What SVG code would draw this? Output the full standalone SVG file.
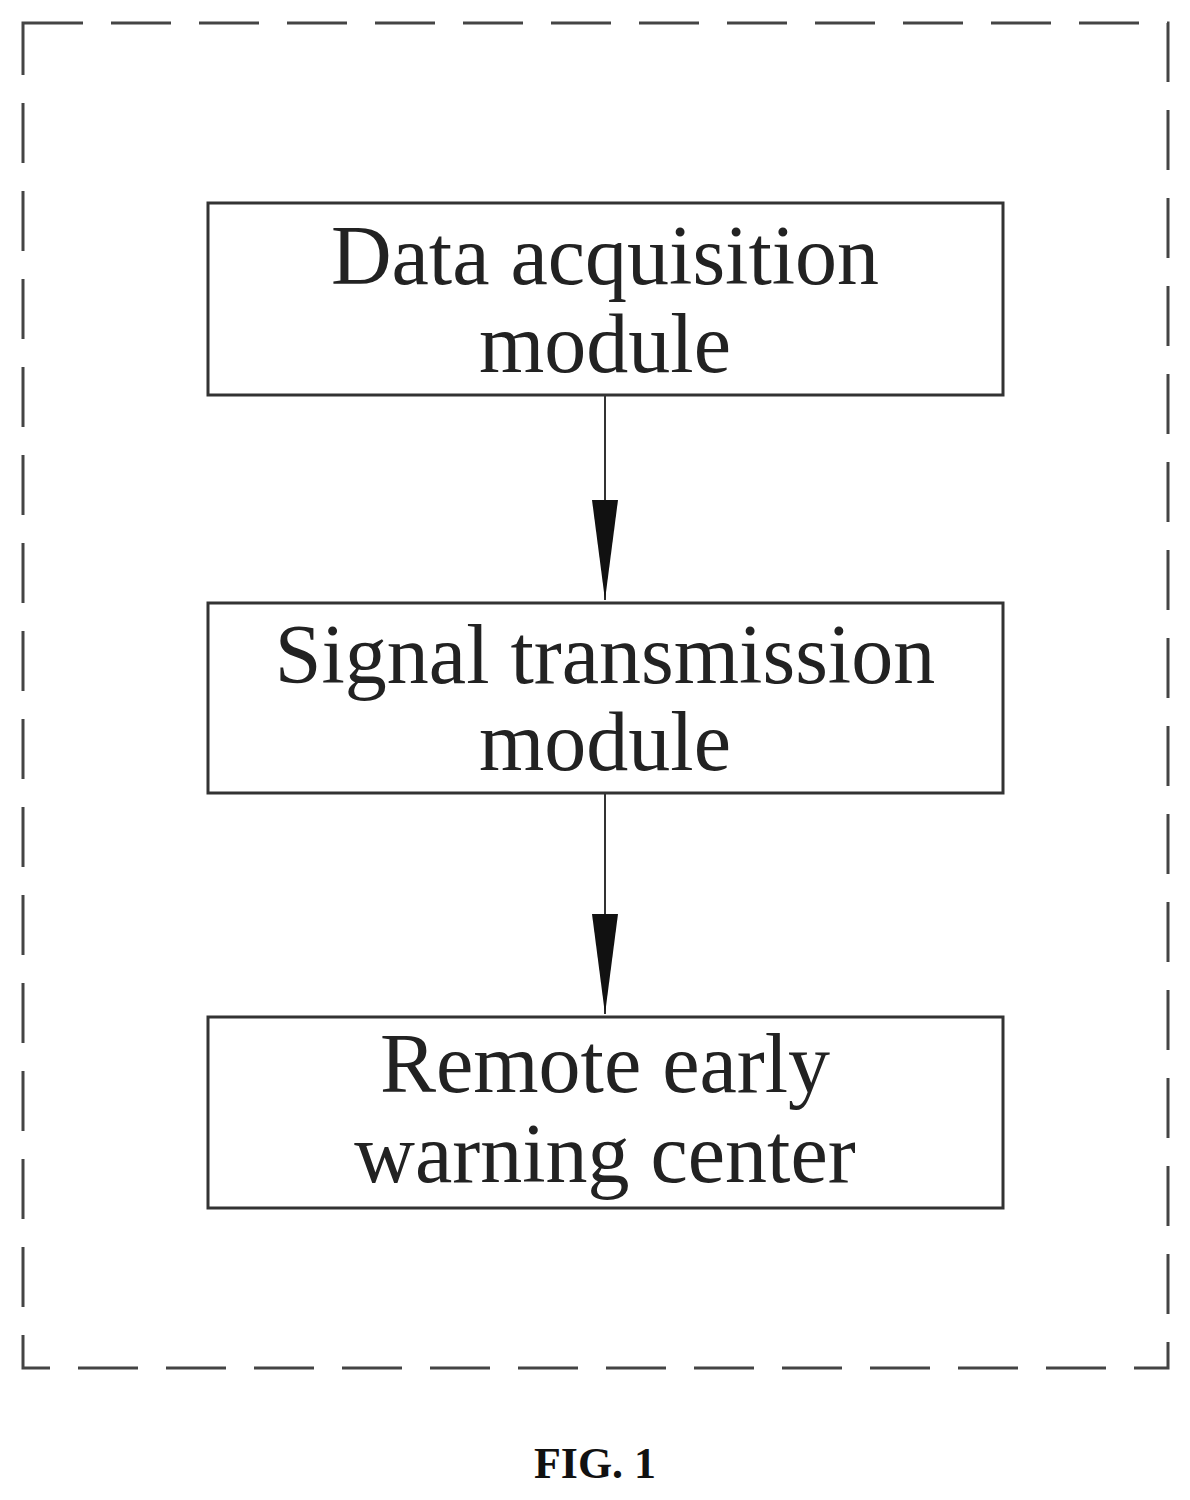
<svg xmlns="http://www.w3.org/2000/svg" width="1190" height="1500" viewBox="0 0 1190 1500">
<style>
.box{fill:none;stroke:#333;stroke-width:3}
.t{font-family:"Liberation Serif",serif;font-size:84px;fill:#222;text-anchor:middle}
.c{stroke:#333;stroke-width:2;fill:none}
</style>
<defs><marker id="a" markerUnits="userSpaceOnUse" markerWidth="100" markerHeight="30" refX="100" refY="15" orient="auto" viewBox="0 0 100 30"><path d="M0,2 L100,15 L0,28 Z" fill="#111"/></marker></defs>
<rect x="0" y="0" width="1190" height="1500" fill="#fff"/>
<rect x="23" y="23" width="1145" height="1345" fill="none" stroke="#444" stroke-width="3" stroke-dasharray="60,28"/>
<g id="n1"><rect class="box" x="208" y="203" width="795" height="192"/><text class="t" x="605" y="284">Data acquisition</text><text class="t" x="605" y="372">module</text></g>
<g id="n2"><rect class="box" x="208" y="603" width="795" height="190"/><text class="t" x="605" y="683">Signal transmission</text><text class="t" x="605" y="770">module</text></g>
<g id="n3"><rect class="box" x="208" y="1017" width="795" height="191"/><text class="t" x="605" y="1092">Remote early</text><text class="t" x="605" y="1182">warning center</text></g>
<g id="connectors">
<path class="c" d="M605,395 V600" marker-end="url(#a)"/>
<path class="c" d="M605,793 V1014" marker-end="url(#a)"/>
</g>
<text x="595" y="1478" font-family="Liberation Serif,serif" font-weight="bold" font-size="44" text-anchor="middle" fill="#111">FIG. 1</text>
</svg>
